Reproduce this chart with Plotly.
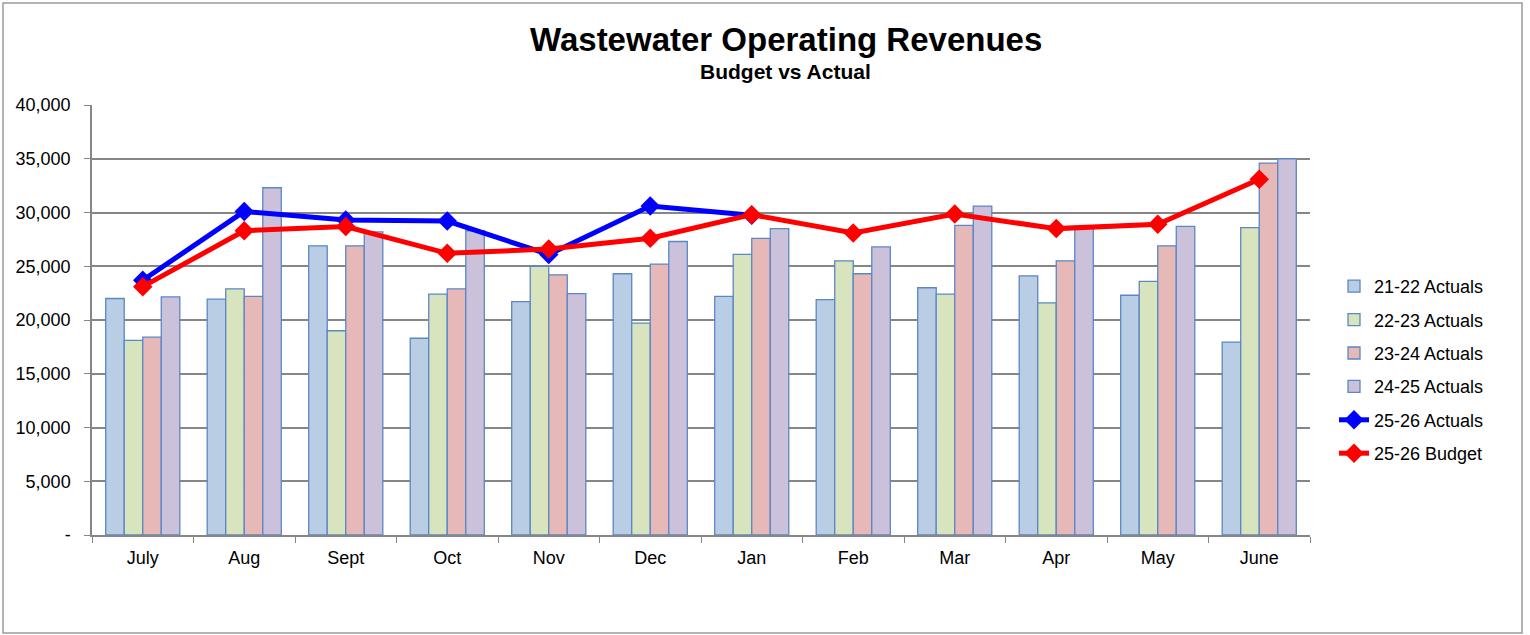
import plotly.graph_objects as go

months = ["July", "Aug", "Sept", "Oct", "Nov", "Dec", "Jan", "Feb", "Mar", "Apr", "May", "June"]
act_21_22 = [22000, 21950, 26900, 18300, 21700, 24300, 22200, 21900, 23000, 24100, 22300, 17950]
act_22_23 = [18100, 22900, 19000, 22400, 25000, 19700, 26100, 25500, 22400, 21600, 23600, 28600]
act_23_24 = [18400, 22200, 26900, 22900, 24200, 25200, 27600, 24300, 28800, 25500, 26900, 34600]
act_24_25 = [22150, 32300, 28200, 28300, 22450, 27300, 28500, 26800, 30600, 28700, 28700, 35000]
act_25_26 = [23700, 30100, 29300, 29200, 26100, 30600, 29750, None, None, None, None, None]
budget_25_26 = [23100, 28300, 28700, 26200, 26600, 27600, 29800, 28100, 29850, 28500, 28900, 33100]

y_ticks = [0, 5000, 10000, 15000, 20000, 25000, 30000, 35000, 40000]
y_tick_text = ["-", "5,000", "10,000", "15,000", "20,000", "25,000", "30,000", "35,000", "40,000"]

FONT = "Liberation Sans, Arial, sans-serif"
outline = "#5B87C5"

# plot area in pixels
L, R, T, B = 92, 1310, 105, 535
PW, PH = R - L, B - T

def py(pix):
    return (B - pix) / PH

def px(pix):
    return (pix - L) / PW

fig = go.Figure()
bar_series = [
    ("21-22 Actuals", act_21_22, "#B9CDE5"),
    ("22-23 Actuals", act_22_23, "#D7E4BD"),
    ("23-24 Actuals", act_23_24, "#E6B9B8"),
    ("24-25 Actuals", act_24_25, "#CCC1DA"),
]
for name, vals, col in bar_series:
    fig.add_trace(go.Bar(
        x=months, y=vals, name=name, legendgroup=name,
        marker=dict(color=col, line=dict(color=outline, width=1.3)),
    ))

fig.add_trace(go.Scatter(
    x=months, y=act_25_26, name="25-26 Actuals", legendgroup="a",
    mode="lines+markers", line=dict(color="#0000FF", width=5),
    marker=dict(symbol="diamond", size=15, color="#0000FF"),
))
fig.add_trace(go.Scatter(
    x=months, y=budget_25_26, name="25-26 Budget", legendgroup="b",
    mode="lines+markers", line=dict(color="#FF0000", width=5),
    marker=dict(symbol="diamond", size=15, color="#FF0000"),
))

fig.update_layout(
    width=1530, height=635,
    margin=dict(l=L, r=1530 - R, t=T, b=635 - B),
    paper_bgcolor="white", plot_bgcolor="white",
    font=dict(family=FONT, size=18, color="black"),
    barmode="group", bargap=0.27, bargroupgap=0,
    showlegend=True,
    legend=dict(x=px(1334), y=py(370), xanchor="left", yanchor="middle",
                font=dict(size=18, family=FONT), tracegroupgap=7,
                itemwidth=30, bgcolor="rgba(0,0,0,0)"),
    annotations=[
        dict(text="<b>Wastewater Operating Revenues</b>", x=px(786), y=py(40), xref="paper", yref="paper",
             xanchor="center", yanchor="middle",
             showarrow=False, font=dict(size=33, family=FONT)),
        dict(text="<b>Budget vs Actual</b>", x=px(785), y=py(72), xref="paper", yref="paper",
             xanchor="center", yanchor="middle",
             showarrow=False, font=dict(size=21, family=FONT)),
    ],
    shapes=[dict(type="rect", xref="paper", yref="paper",
                 x0=px(3), x1=px(1522), y0=py(633), y1=py(3),
                 line=dict(color="#9A9A9A", width=1.5), fillcolor="rgba(0,0,0,0)", layer="below")],
)

fig.update_xaxes(
    type="category", tickson="boundaries", ticks="outside", ticklen=6, tickcolor="#868686",
    showline=True, linecolor="#868686", linewidth=1.5, showgrid=False,
    tickfont=dict(size=18, family=FONT), range=[-0.5, 11.5], ticklabelstandoff=6,
)
fig.update_yaxes(
    range=[0, 40000], tickvals=y_ticks, ticktext=y_tick_text,
    ticks="outside", ticklen=6, tickcolor="#868686",
    showline=True, linecolor="#868686", linewidth=1.5,
    showgrid=True, gridcolor="#868686", gridwidth=1.5,
    tickfont=dict(size=18, family=FONT), zeroline=False, ticklabelstandoff=10,
)

fig.write_html("out.html", config={"displayModeBar": False},
               post_script="document.body.style.margin='0';document.body.style.overflow='hidden';")
